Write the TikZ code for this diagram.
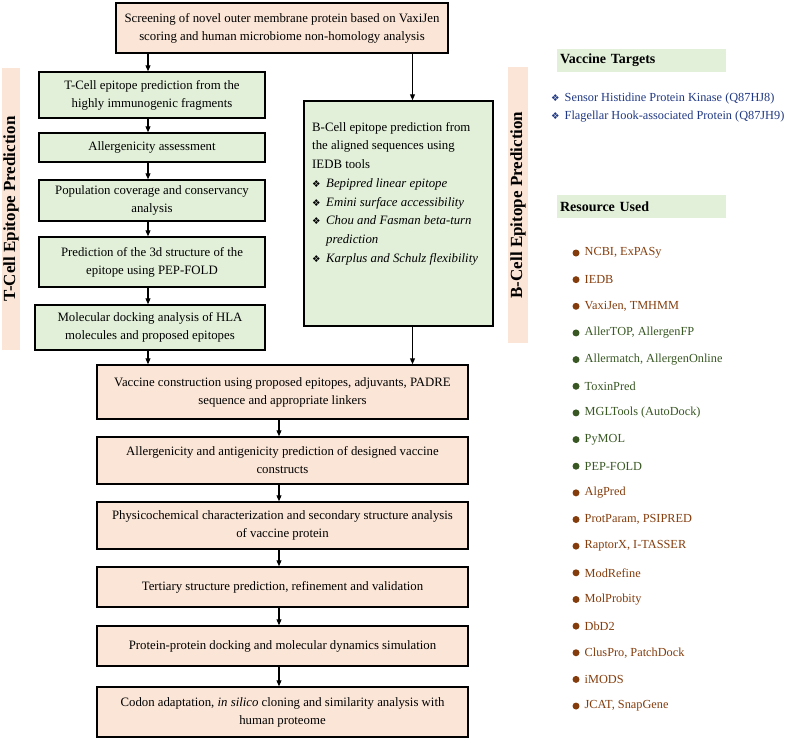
\documentclass[tikz,border=0pt]{standalone}
\usepackage{fontspec}
\setmainfont{Liberation Serif}
\newfontfamily\symfont{DejaVu Sans}
\usetikzlibrary{arrows.meta}
\definecolor{pinkfill}{HTML}{FBE5D6}
\definecolor{greenfill}{HTML}{E2F0D9}
\definecolor{navytxt}{RGB}{32,56,130}
\definecolor{browntxt}{RGB}{132,60,12}
\definecolor{greentxt}{RGB}{56,87,35}
\newcommand{\dia}{{\symfont\fontsize{9.5}{9.5}\selectfont ❖}}
\newcommand{\ditem}[1]{\makebox[14pt][l]{\dia}\textit{#1}}
\begin{document}
\begin{tikzpicture}[x=1pt,y=-1pt,
  pbox/.style={draw=black, line width=1.5pt, fill=pinkfill, align=center, inner sep=0pt, font=\fontsize{12.8}{18}\selectfont},
  gbox/.style={pbox, fill=greenfill},
  arr/.style={-{Triangle[length=6pt,width=5pt]}, line width=1.1pt},
  sidelab/.style={fill=pinkfill, inner sep=0pt, font=\bfseries\fontsize{17}{17}\selectfont, rotate=90},
  hdr/.style={fill=greenfill, inner sep=3pt, text width=163pt, minimum height=23pt, align=left, font=\bfseries\fontsize{14}{14}\selectfont},
  tgt/.style={anchor=west, inner sep=0pt, text=navytxt, font=\fontsize{12.3}{12}\selectfont},
  res/.style={anchor=west, inner sep=0pt, font=\fontsize{12.3}{12}\selectfont},
  dot/.style={circle, inner sep=0pt, minimum size=7pt}
]
\useasboundingbox (0,0) rectangle (785,740);

% main flow boxes
\node[pbox, minimum width=332pt, minimum height=50pt] (top) at (282,28)
  {Screening of novel outer membrane protein based on VaxiJen\\scoring and human microbiome non-homology analysis};
\node[gbox, minimum width=226pt, minimum height=46pt] (t1) at (152,95)
  {T-Cell epitope prediction from the\\highly immunogenic fragments};
\node[gbox, minimum width=226pt, minimum height=29pt] (t2) at (152,147.5)
  {Allergenicity assessment};
\node[gbox, minimum width=226pt, minimum height=41pt] (t3) at (152,200.5)
  {Population coverage and conservancy\\analysis};
\node[gbox, minimum width=226pt, minimum height=50pt] (t4) at (152,262)
  {Prediction of the 3d structure of the\\epitope using PEP-FOLD};
\node[gbox, minimum width=230pt, minimum height=45pt] (t5) at (150,327.5)
  {Molecular docking analysis of HLA\\molecules and proposed epitopes};
\node[gbox, minimum width=189pt, minimum height=225pt] (bc) at (398.5,213.5) {};
\node[anchor=north west, inner sep=0pt, align=left, font=\fontsize{12.8}{18.7}\selectfont] (bctext) at (312,122)
  {B-Cell epitope prediction from\\
   the aligned sequences using\\
   IEDB tools\\
   \ditem{Bepipred linear epitope}\\
   \ditem{Emini surface accessibility}\\
   \ditem{Chou and Fasman beta-turn}\\
   \hspace*{14pt}\textit{prediction}\\
   \ditem{Karplus and Schulz flexibility}};

\node[pbox, minimum width=371pt, minimum height=54pt] (v1) at (282.5,392)
  {Vaccine construction using proposed epitopes, adjuvants, PADRE\\sequence and appropriate linkers};
\node[pbox, minimum width=371pt, minimum height=47pt] (v2) at (282.5,460.5)
  {Allergenicity and antigenicity prediction of designed vaccine\\constructs};
\node[pbox, minimum width=371pt, minimum height=47pt] (v3) at (282.5,525.5)
  {Physicochemical characterization and secondary structure analysis\\of vaccine protein};
\node[pbox, minimum width=371pt, minimum height=40pt] (v4) at (282.5,587)
  {Tertiary structure prediction, refinement and validation};
\node[pbox, minimum width=371pt, minimum height=40pt] (v5) at (282.5,646)
  {Protein-protein docking and molecular dynamics simulation};
\node[pbox, minimum width=371pt, minimum height=50pt] (v6) at (282.5,712)
  {Codon adaptation, \textit{in silico} cloning and similarity analysis with\\human proteome};

% arrows
\coordinate (xa) at (148,0);
\coordinate (xb) at (412.5,0);
\coordinate (xc) at (279,0);
\draw[arr] (top.south -| xa) -- (t1.north -| xa);
\draw[arr] (t1.south -| xa) -- (t2.north -| xa);
\draw[arr] (t2.south -| xa) -- (t3.north -| xa);
\draw[arr] (t3.south -| xa) -- (t4.north -| xa);
\draw[arr] (t4.south -| xa) -- (t5.north -| xa);
\draw[arr] (t5.south -| xa) -- (v1.north -| xa);
\draw[arr] (top.south -| xb) -- (bc.north -| xb);
\draw[arr] (bc.south -| xb) -- (v1.north -| xb);
\draw[arr] (v1.south -| xc) -- (v2.north -| xc);
\draw[arr] (v2.south -| xc) -- (v3.north -| xc);
\draw[arr] (v3.south -| xc) -- (v4.north -| xc);
\draw[arr] (v4.south -| xc) -- (v5.north -| xc);
\draw[arr] (v5.south -| xc) -- (v6.north -| xc);

% side labels
\node[sidelab, minimum width=282pt, minimum height=18pt] (tlab) at (11,209) {T-Cell Epitope Prediction};
\node[sidelab, minimum width=276pt, minimum height=20pt] (blab) at (518,205) {B-Cell Epitope Prediction};

% right column
\node[hdr] (vt) at (641.5,60.5) {Vaccine Targets};
\node[tgt] (vt1) at (551,99) {\makebox[13.5pt][l]{\dia}Sensor Histidine Protein Kinase (Q87HJ8)};
\node[tgt] (vt2) at (551,117) {\makebox[13.5pt][l]{\dia}Flagellar Hook-associated Protein (Q87JH9)};

\node[hdr] (ru) at (641.5,206.5) {Resource Used};
\foreach \t [count=\i from 0] in {{NCBI, ExPASy},{IEDB},{VaxiJen, TMHMM},{AllerTOP, AllergenFP},{Allermatch, AllergenOnline},{ToxinPred},{MGLTools (AutoDock)},{PyMOL},{PEP-FOLD},{AlgPred},{ProtParam, PSIPRED},{RaptorX, I-TASSER},{ModRefine},{MolProbity},{DbD2},{ClusPro, PatchDock},{iMODS},{JCAT, SnapGene}}{
  \pgfmathsetmacro{\yy}{253+26.65*\i}
  \ifnum\i<3 \def\cc{browntxt}\else\ifnum\i<9 \def\cc{greentxt}\else\def\cc{browntxt}\fi\fi
  \node[dot, fill=\cc] (b\i) at (576,\yy) {};
  \node[res, text=\cc] (r\i) at (584.5,\yy) {\t};
}
\end{tikzpicture}
\end{document}
